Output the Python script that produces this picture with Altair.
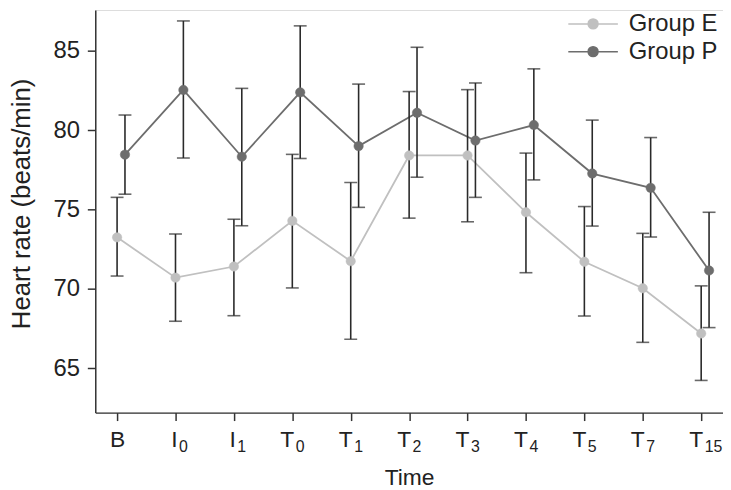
import altair as alt
import pandas as pd

labels = ["B", "I₀", "I₁", "T₀", "T₁", "T₂", "T₃", "T₄", "T₅", "T₇", "T₁₅"]
label_main = ["B", "I", "I", "T", "T", "T", "T", "T", "T", "T", "T"]
label_sub = ["", "0", "1", "0", "1", "2", "3", "4", "5", "7", "15"]
groups = ["Group E", "Group P"]
e_mean = [73.25, 70.71, 71.41, 74.29, 71.75, 78.41, 78.41, 74.83, 71.71, 70.04, 67.19]
e_upper = [75.77, 73.46, 74.39, 78.48, 76.71, 82.44, 82.56, 78.56, 75.19, 73.50, 70.19]
e_lower = [70.81, 67.96, 68.31, 70.06, 66.83, 74.46, 74.23, 71.02, 68.29, 66.63, 64.23]
p_mean = [78.46, 82.54, 78.33, 82.39, 79.00, 81.10, 79.35, 80.33, 77.27, 76.37, 71.16]
p_upper = [80.96, 86.89, 82.64, 86.58, 82.91, 85.23, 82.98, 83.87, 80.64, 79.54, 74.83]
p_lower = [75.97, 78.25, 73.98, 78.22, 75.14, 77.04, 75.77, 76.87, 73.96, 73.27, 67.56]

rows = []
for i, lab in enumerate(labels):
    rows.append({"idx": i, "time": lab, "group": groups[0], "mean": e_mean[i], "lo": e_lower[i], "hi": e_upper[i]})
for i, lab in enumerate(labels):
    rows.append({"idx": i, "time": lab, "group": groups[1], "mean": p_mean[i], "lo": p_lower[i], "hi": p_upper[i]})
df = pd.DataFrame(rows)

FONT = "Liberation Sans"
TXT = "#222222"
AX = "#333333"
color_scale = alt.Scale(domain=groups, range=["#c0c0c0", "#6d6d6d"])
x_scale = alt.Scale(domain=[-0.3735, 10.3735], nice=False, zero=False)
y_scale = alt.Scale(domain=[62.2, 87.58], nice=False, zero=False)

main_expr = "[" + ",".join(f"'{l}'" for l in label_main) + "][datum.value]"
sub_expr = "[" + ",".join(f"'{l}'" for l in label_sub) + "][datum.value]"
tick_vals = list(range(len(labels)))

x_axis_main = alt.Axis(
    orient="bottom", title="Time", values=tick_vals, labelExpr=main_expr,
    grid=False, domainColor=AX, domainWidth=1.5, tickColor=AX, tickWidth=1.5, tickSize=8,
    labelFont=FONT, labelFontSize=23, labelColor=TXT, labelPadding=8,
    labelAlign={"condition": {"test": "datum.value == 0", "value": "center"}, "value": "right"},
    labelOffset={"condition": {"test": "datum.value == 0", "value": 0}, "value": 1.5},
    titleFont=FONT, titleFontSize=23, titleFontWeight="normal", titleColor=TXT, titlePadding=15,
)
x_axis_sub = alt.Axis(
    orient="bottom", title=None, values=tick_vals, labelExpr=sub_expr,
    grid=False, domain=False, tickOpacity=0, tickSize=8,
    labelFont=FONT, labelFontSize=16, labelColor=TXT, labelPadding=18,
    labelAlign="left", labelOffset=3,
)
y_axis = alt.Axis(
    title="Heart rate (beats/min)", values=[65, 70, 75, 80, 85], grid=False,
    domainColor=AX, domainWidth=1.5, tickColor=AX, tickWidth=1.5, tickSize=8,
    labelFont=FONT, labelFontSize=24, labelColor=TXT, labelPadding=8,
    titleFont=FONT, titleFontSize=26, titleFontWeight="normal", titleColor=TXT,
    titleX=-61, titleY=195,
)

legend = alt.Legend(
    title=None, orient="none", legendX=490, legendY=2,
    symbolType="M-5,0H5M1,0A1,1,0,1,1,-1,0A1,1,0,1,1,1,0Z",
    symbolSize=100, symbolStrokeWidth=1.5,
    labelFont=FONT, labelFontSize=24, labelColor=TXT, labelOffset=24,
    rowPadding=4, padding=0,
)

base = alt.Chart(df).transform_calculate(
    xpos="datum.idx + (datum.group == 'Group P' ? 0.135 : 0)"
)

lines = base.mark_line(strokeWidth=1.8).encode(
    x=alt.X("xpos:Q", scale=x_scale, axis=x_axis_main),
    y=alt.Y("mean:Q", scale=y_scale, axis=y_axis),
    color=alt.Color("group:N", scale=color_scale, legend=legend),
    detail="group:N",
)

bars = base.mark_rule(color="#2a2a2a", strokeWidth=1.6).encode(
    x=alt.X("xpos:Q", scale=x_scale, axis=x_axis_sub),
    y=alt.Y("lo:Q", axis=None),
    y2="hi:Q",
)
cap_hi = base.mark_tick(color="#2a2a2a", thickness=1.6, size=13, orient="horizontal").encode(
    x=alt.X("xpos:Q", axis=None), y=alt.Y("hi:Q", axis=None)
)
cap_lo = base.mark_tick(color="#2a2a2a", thickness=1.6, size=13, orient="horizontal").encode(
    x=alt.X("xpos:Q", axis=None), y=alt.Y("lo:Q", axis=None)
)

points = base.mark_circle(size=90, opacity=1, strokeWidth=0.5).encode(
    x=alt.X("xpos:Q", axis=None),
    y=alt.Y("mean:Q", axis=None),
    color=alt.Color("group:N", scale=color_scale, legend=legend),
    stroke=alt.Stroke("group:N", scale=color_scale, legend=legend),
)

chart = alt.layer(lines, bars, cap_hi, cap_lo, points).resolve_axis(
    x="independent", y="independent"
).properties(
    width=633, height=406,
    autosize=alt.AutoSizeParams(type="none"),
    padding={"left": 88, "top": 0, "right": 0, "bottom": 76},
).configure_view(stroke=None).configure(background="white")

chart.save("out.html", embed_options={"renderer": "svg", "actions": False})
